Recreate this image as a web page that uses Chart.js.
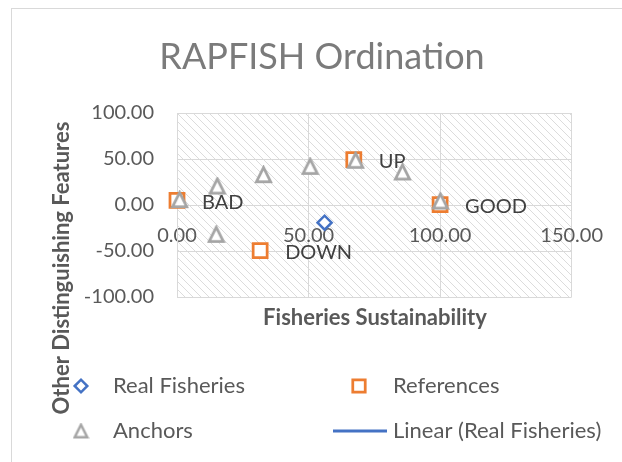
<!DOCTYPE html>
<html>
<head>
<meta charset="utf-8">
<script src="https://cdn.jsdelivr.net/npm/chart.js@4.4.1/dist/chart.umd.min.js"></script>
<style>
  html, body { margin: 0; padding: 0; background: #fff; }
</style>
</head>
<body>
<canvas id="ordination" width="622" height="462"></canvas>
<script>
// values
const realX    = [56.1];
const realY    = [-19.2];
const refX     = [0, 100, 67.2, 31.6];
const refY     = [5.1, 0.5, 49.3, -49.7];
const refNames = ['BAD', 'GOOD', 'UP', 'DOWN'];
const anchorX  = [1.0, 15.3, 32.9, 50.6, 67.9, 85.7, 100.1, 14.9];
const anchorY  = [5.8, 20.6, 33.0, 42.0, 48.6, 35.9, 4.3, -31.9];
const xRange   = [0, 150, 50];     // min, max, step
const yRange   = [-100, 100, 50];

const FONT = 'Lato, "Open Sans", sans-serif';
const TEXT = '#595959';

const pts = (xs, ys) => xs.map((x, i) => ({ x, y: ys[i] }));

// hollow triangle marker, drawn centred on its box like the Excel one
function triangleMarker(size, lw) {
  const c = document.createElement('canvas');
  c.width = c.height = size;
  const g = c.getContext('2d');
  const m = lw / 2 + 1;
  g.beginPath();
  g.moveTo(size / 2, m);
  g.lineTo(size - m, size - m);
  g.lineTo(m, size - m);
  g.closePath();
  g.fillStyle = '#fff';
  g.fill();
  g.lineWidth = lw;
  g.strokeStyle = '#A5A5A5';
  g.stroke();
  return c;
}
const triBig = triangleMarker(19, 2.75);
const triSmall = triangleMarker(17, 2.5);

function hatch(ctx) {
  const t = document.createElement('canvas');
  t.width = t.height = 8;
  const g = t.getContext('2d');
  g.fillStyle = '#fff';
  g.fillRect(0, 0, 8, 8);
  g.fillStyle = '#dcdcdc';
  for (let i = 0; i < 8; i++) g.fillRect(i, i, 1, 1);
  return ctx.createPattern(t, 'repeat');
}

const decor = {
  id: 'decor',
  beforeDraw(chart) {
    const { ctx, chartArea: a } = chart;
    ctx.save();
    ctx.fillStyle = '#fff';
    ctx.fillRect(0, 0, chart.width, chart.height);
    ctx.strokeStyle = '#d9d9d9';
    ctx.lineWidth = 1;
    ctx.strokeRect(11.5, 8.5, chart.width + 20, chart.height + 20);
    ctx.fillStyle = hatch(ctx);
    ctx.fillRect(a.left, a.top, a.right - a.left, a.bottom - a.top);
    ctx.restore();
  },
  afterDatasetsDraw(chart) {
    // data labels to the right of the reference points
    const { ctx, scales: { x, y } } = chart;
    ctx.save();
    ctx.font = '20px ' + FONT;
    ctx.fillStyle = '#404040';
    ctx.textAlign = 'left';
    ctx.textBaseline = 'middle';
    refNames.forEach((name, i) => {
      ctx.fillText(name, x.getPixelForValue(refX[i]) + 25, y.getPixelForValue(refY[i]) + 2);
    });
    ctx.restore();
  },
  afterDraw(chart) {
    const ctx = chart.ctx;
    ctx.save();
    ctx.textBaseline = 'middle';
    ctx.textAlign = 'center';

    ctx.fillStyle = '#7b7b7b';
    ctx.font = '36px ' + FONT;
    ctx.fillText('RAPFISH Ordination', 322, 57);

    ctx.fillStyle = TEXT;
    ctx.font = 'bold 22px ' + FONT;
    ctx.fillText('Fisheries Sustainability', 375, 318);

    ctx.save();
    ctx.translate(62, 268);
    ctx.rotate(-Math.PI / 2);
    ctx.fillText('Other Distinguishing Features', 0, 0);
    ctx.restore();

    // legend, two columns
    const slots = [[81, 386], [359, 386], [81, 431], [359, 431]];
    const textX = [113, 393];
    ctx.textAlign = 'left';
    ctx.font = '22px ' + FONT;
    chart.data.datasets.forEach((ds) => {
      const [mx, my] = slots[ds.legendSlot];
      const tx = textX[ds.legendSlot % 2];
      if (ds.showLine) {
        ctx.strokeStyle = ds.borderColor;
        ctx.lineWidth = 3;
        ctx.beginPath();
        ctx.moveTo(333, my);
        ctx.lineTo(387, my);
        ctx.stroke();
      } else {
        ctx.fillStyle = '#fff';
        ctx.strokeStyle = ds.pointBorderColor;
        ctx.lineWidth = ds.pointBorderWidth;
        const style = ds.pointStyle === triBig ? triSmall : ds.pointStyle;
        Chart.helpers.drawPoint(ctx, {
          pointStyle: style, radius: ds.legendRadius, rotation: 0, borderWidth: ds.pointBorderWidth
        }, mx, my);
      }
      ctx.fillStyle = TEXT;
      ctx.fillText(ds.label, tx, my);
    });
    ctx.restore();
  }
};

new Chart(document.getElementById('ordination'), {
  type: 'scatter',
  data: {
    datasets: [
      {
        label: 'Real Fisheries',
        data: pts(realX, realY),
        pointStyle: 'rectRot',
        pointRadius: 7,
        pointBorderWidth: 2.5,
        pointBorderColor: '#4472C4',
        pointBackgroundColor: '#fff',
        order: 0, legendSlot: 0, legendRadius: 6.3, clip: false
      },
      {
        label: 'References',
        data: pts(refX, refY),
        pointStyle: 'rect',
        pointRadius: 9.9,
        pointBorderWidth: 2.75,
        pointBorderColor: '#ED7D31',
        pointBackgroundColor: '#fff',
        order: 2, legendSlot: 1, legendRadius: 8.8, clip: false
      },
      {
        label: 'Anchors',
        data: pts(anchorX, anchorY),
        pointStyle: triBig,
        pointRadius: 9,
        pointBorderWidth: 2.75,
        pointBorderColor: '#A5A5A5',
        pointBackgroundColor: '#fff',
        order: 1, legendSlot: 2, legendRadius: 8, clip: false
      },
      {
        // trend line of a single point: nothing to draw, legend only
        label: 'Linear (Real Fisheries)',
        type: 'line',
        data: [],
        showLine: true,
        borderColor: '#4472C4',
        borderWidth: 3,
        pointRadius: 0,
        order: 3, legendSlot: 3
      }
    ]
  },
  options: {
    responsive: false,
    animation: false,
    layout: { padding: { top: 113, right: 49, bottom: 165, left: 0 } },
    plugins: {
      legend: { display: false },
      title: { display: false },
      tooltip: { enabled: false }
    },
    scales: {
      x: {
        type: 'linear',
        position: { y: 0 },
        min: xRange[0], max: xRange[1],
        ticks: {
          stepSize: xRange[2],
          padding: 19,
          color: TEXT,
          font: { family: FONT, size: 20 },
          callback: v => v.toFixed(2)
        },
        grid: { color: '#d9d9d9', drawTicks: false },
        border: { color: '#d9d9d9' }
      },
      y: {
        type: 'linear',
        position: 'left',
        min: yRange[0], max: yRange[1],
        afterFit: s => { s.width = 177; },
        ticks: {
          stepSize: yRange[2],
          padding: 23,
          color: TEXT,
          font: { family: FONT, size: 20 },
          callback: v => v.toFixed(2)
        },
        grid: { color: '#d9d9d9', drawTicks: false },
        border: { color: '#d9d9d9' }
      }
    }
  },
  plugins: [decor]
});
</script>
</body>
</html>
